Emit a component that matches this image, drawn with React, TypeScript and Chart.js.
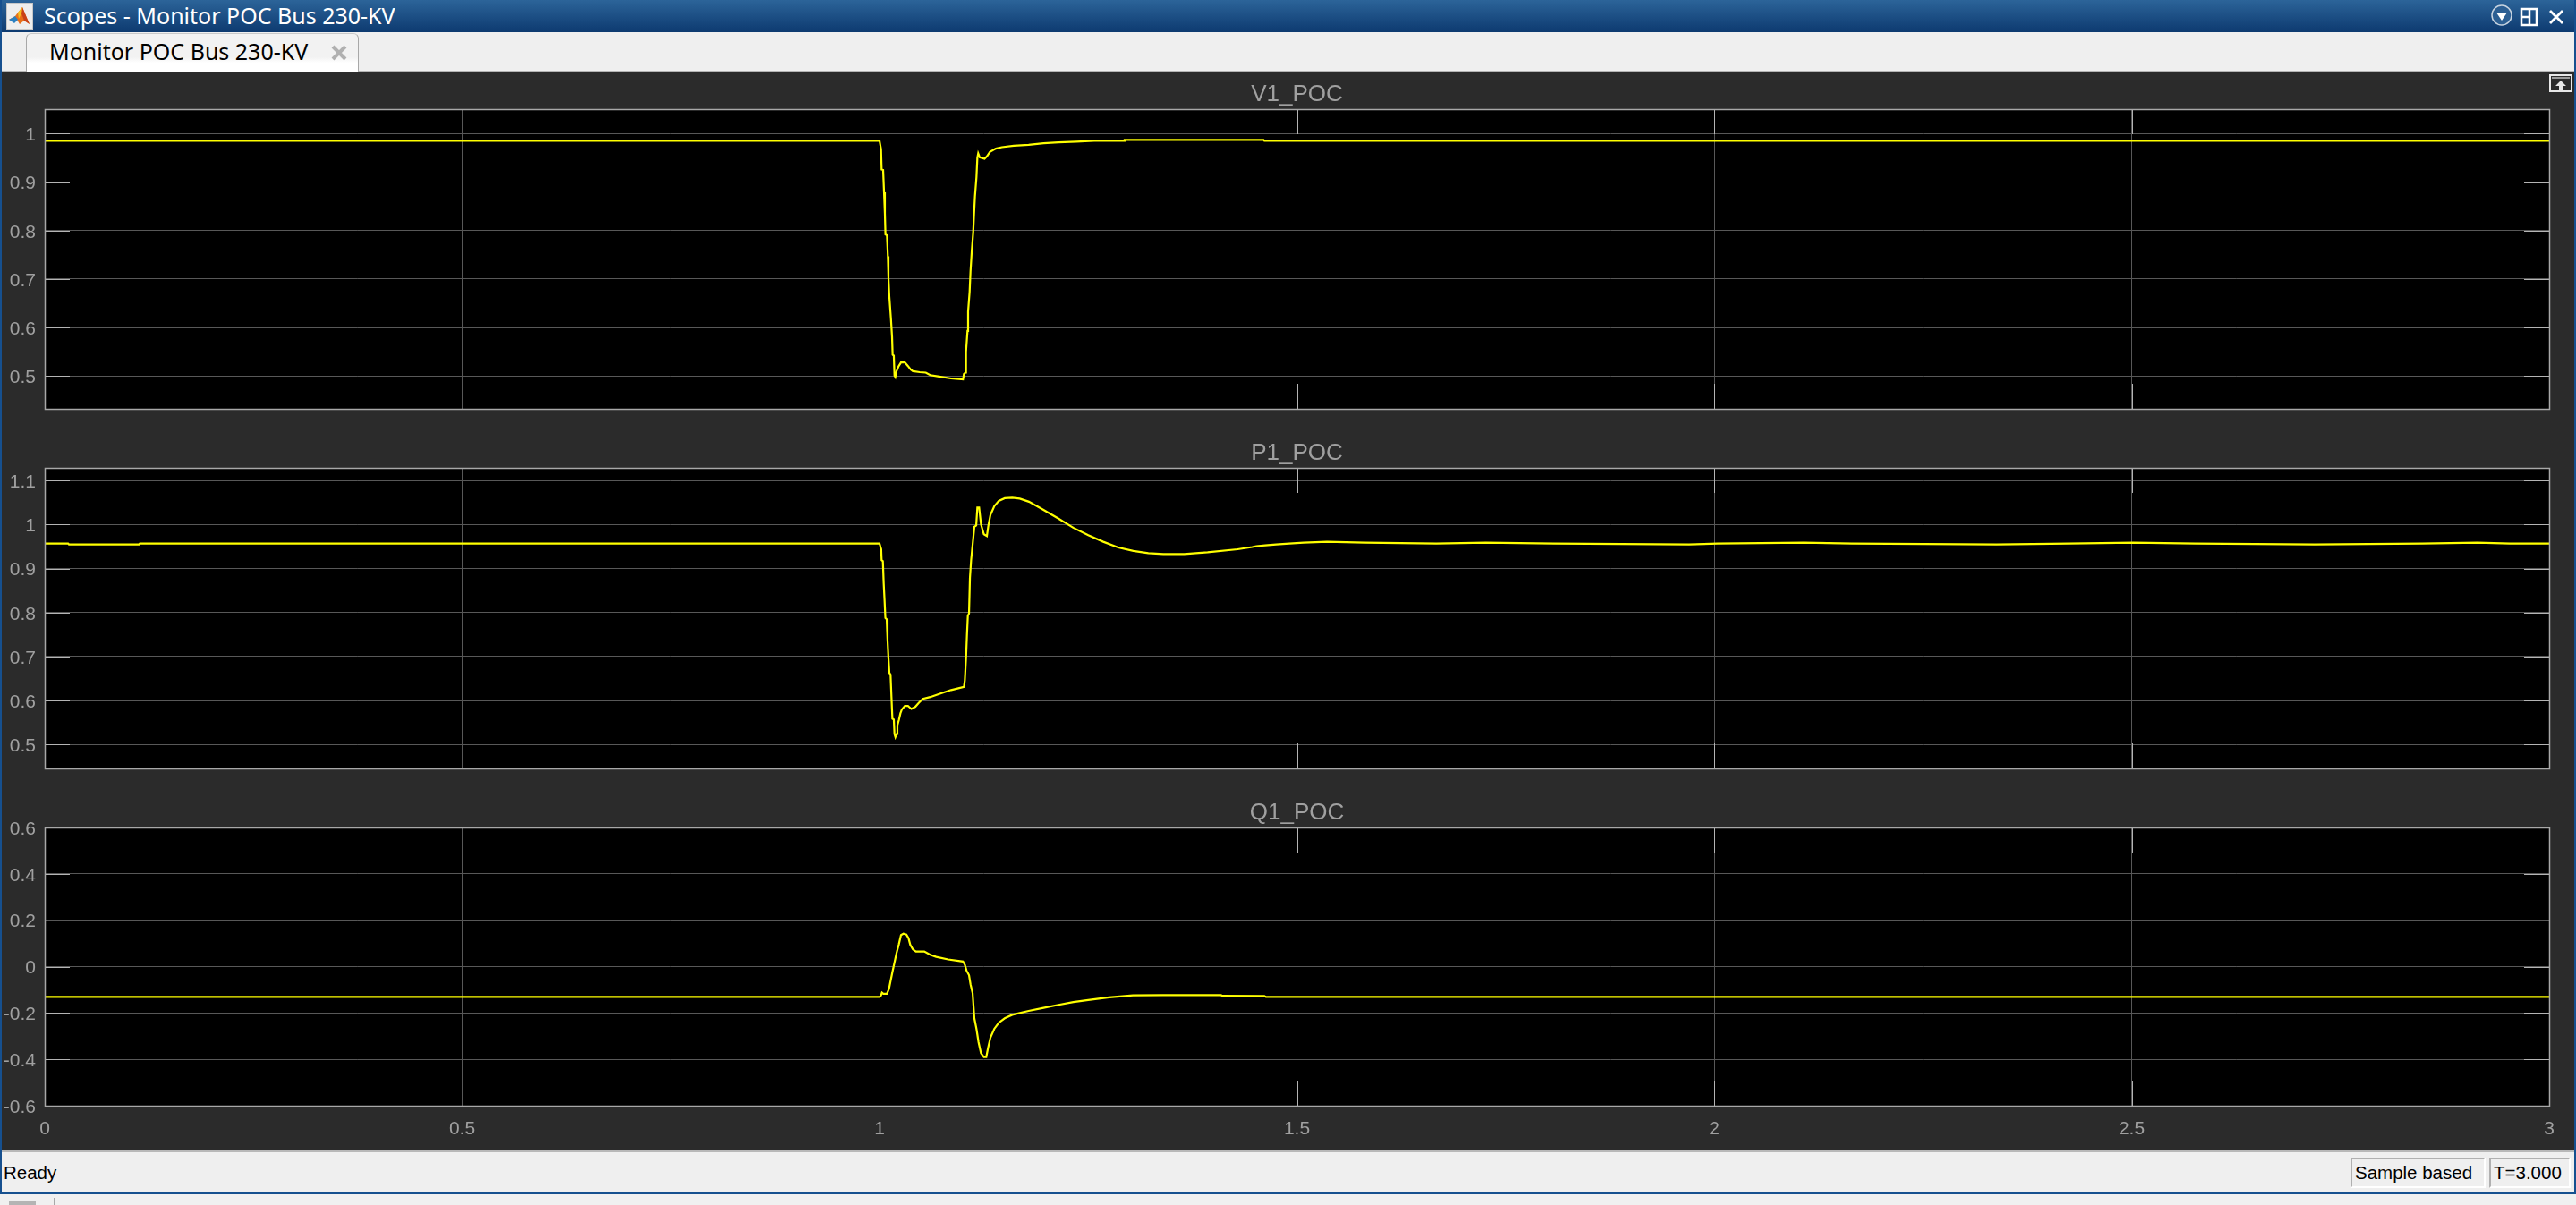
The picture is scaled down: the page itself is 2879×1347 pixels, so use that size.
import React, { useEffect, useRef } from "react";
import { Chart, registerables } from "chart.js";

Chart.register(...registerables);

const WINDOW_TITLE = "Scopes - Monitor POC Bus 230-KV";
const TAB_TITLE = "Monitor POC Bus 230-KV";
const STATUS_TEXT = "Ready";
const SAMPLE_TEXT = "Sample based";
const TIME_TEXT = "T=3.000";

const xTicks = [0, 0.5, 1, 1.5, 2, 2.5, 3];
const v1Ticks = [0.5, 0.6, 0.7, 0.8, 0.9, 1];
const p1Ticks = [0.5, 0.6, 0.7, 0.8, 0.9, 1, 1.1];
const q1Ticks = [-0.6, -0.4, -0.2, 0, 0.2, 0.4, 0.6];

const v1Time = [0, 1, 1.0018, 1.0025, 1.0043, 1.0054, 1.0064, 1.0071, 1.0089, 1.01, 1.0107, 1.0118, 1.0136, 1.015, 1.0157, 1.0171, 1.0179, 1.0189, 1.0204, 1.0225, 1.0257, 1.0304, 1.0339, 1.0375, 1.04, 1.0482, 1.0554, 1.0607, 1.0715, 1.0857, 1.1, 1.1011, 1.1029, 1.1036, 1.1054, 1.1061, 1.1079, 1.109, 1.1104, 1.1122, 1.1132, 1.1143, 1.1161, 1.1172, 1.1182, 1.12, 1.1258, 1.1286, 1.1322, 1.1393, 1.1465, 1.1608, 1.1786, 1.1965, 1.2144, 1.2358, 1.2572, 1.2929, 1.2936, 1.46, 1.461, 3];
const v1Values = [0.9852, 0.9852, 0.968, 0.926, 0.925, 0.879, 0.836, 0.792, 0.79, 0.747, 0.702, 0.663, 0.62, 0.581, 0.544, 0.542, 0.501, 0.498, 0.51, 0.519, 0.528, 0.528, 0.521, 0.513, 0.51, 0.508, 0.507, 0.502, 0.499, 0.495, 0.493, 0.504, 0.507, 0.55, 0.593, 0.633, 0.673, 0.716, 0.755, 0.796, 0.833, 0.87, 0.91, 0.95, 0.959, 0.951, 0.948, 0.953, 0.962, 0.969, 0.972, 0.975, 0.977, 0.98, 0.982, 0.9834, 0.9852, 0.9852, 0.987, 0.987, 0.9852, 0.9852];

const p1Time = [0, 0.028, 0.029, 0.113, 0.114, 1, 1.002, 1.0025, 1.004, 1.005, 1.006, 1.007, 1.0086, 1.0096, 1.0107, 1.0118, 1.0132, 1.0143, 1.0154, 1.0171, 1.0179, 1.019, 1.0204, 1.0214, 1.0232, 1.025, 1.0268, 1.0304, 1.034, 1.0382, 1.0429, 1.0472, 1.0518, 1.0607, 1.0715, 1.0857, 1.1011, 1.1022, 1.1036, 1.1047, 1.1058, 1.1072, 1.1083, 1.1097, 1.1115, 1.1136, 1.1158, 1.1172, 1.1193, 1.1215, 1.125, 1.1286, 1.1304, 1.1329, 1.1375, 1.1429, 1.15, 1.159, 1.168, 1.179, 1.196, 1.214, 1.232, 1.25, 1.268, 1.286, 1.304, 1.322, 1.34, 1.365, 1.393, 1.429, 1.4464, 1.4515, 1.462, 1.475, 1.491, 1.508, 1.536, 1.581, 1.667, 1.726, 1.807, 1.97, 2.004, 2.107, 2.165, 2.338, 2.425, 2.502, 2.576, 2.719, 2.848, 2.914, 2.953, 3];
const p1Values = [0.957, 0.957, 0.955, 0.955, 0.957, 0.957, 0.944, 0.919, 0.917, 0.866, 0.829, 0.788, 0.785, 0.737, 0.696, 0.663, 0.659, 0.608, 0.559, 0.557, 0.524, 0.517, 0.524, 0.544, 0.556, 0.571, 0.58, 0.588, 0.588, 0.581, 0.586, 0.595, 0.604, 0.608, 0.615, 0.624, 0.631, 0.646, 0.696, 0.747, 0.793, 0.798, 0.879, 0.919, 0.954, 0.995, 0.998, 1.039, 1.039, 1.001, 0.978, 0.974, 0.998, 1.022, 1.042, 1.054, 1.06, 1.061, 1.059, 1.052, 1.034, 1.014, 0.993, 0.976, 0.961, 0.948, 0.94, 0.935, 0.933, 0.933, 0.937, 0.944, 0.949, 0.951, 0.953, 0.955, 0.957, 0.959, 0.961, 0.959, 0.957, 0.959, 0.957, 0.955, 0.957, 0.959, 0.957, 0.955, 0.957, 0.959, 0.957, 0.955, 0.957, 0.959, 0.957, 0.957];

const q1Time = [0, 1, 1.0018, 1.0029, 1.0046, 1.0089, 1.0114, 1.0132, 1.0154, 1.0179, 1.0204, 1.0232, 1.0257, 1.0286, 1.0322, 1.0347, 1.0368, 1.04, 1.0436, 1.0536, 1.0607, 1.0679, 1.0822, 1.1, 1.1022, 1.1043, 1.1072, 1.109, 1.1115, 1.1136, 1.1161, 1.1186, 1.1215, 1.125, 1.1279, 1.13, 1.1329, 1.1375, 1.1429, 1.15, 1.159, 1.1786, 1.1965, 1.2144, 1.2322, 1.25, 1.275, 1.3036, 1.3393, 1.409, 1.411, 1.461, 1.463, 3];
const q1Values = [-0.131, -0.131, -0.124, -0.112, -0.117, -0.117, -0.095, -0.063, -0.024, 0.017, 0.059, 0.097, 0.136, 0.142, 0.138, 0.123, 0.094, 0.074, 0.065, 0.065, 0.051, 0.042, 0.031, 0.022, 0.008, -0.018, -0.037, -0.076, -0.114, -0.223, -0.268, -0.326, -0.373, -0.39, -0.39, -0.351, -0.306, -0.268, -0.242, -0.223, -0.208, -0.191, -0.178, -0.165, -0.153, -0.144, -0.133, -0.124, -0.123, -0.123, -0.126, -0.127, -0.131, -0.131];

const TICK_FONT = "'Liberation Sans', Arial, sans-serif";
const UI_FONT = "'Noto Sans', sans-serif";

const panelPlugin = {
  id: "scopePanel",
  beforeDraw(chart: any) {
    const { ctx, chartArea: a } = chart;
    ctx.save();
    ctx.fillStyle = "#000000";
    ctx.fillRect(a.left, a.top, a.right - a.left, a.bottom - a.top);
    ctx.restore();
  },
  beforeDatasetsDraw(chart: any) {
    const { ctx, chartArea: a, scales } = chart;
    const len = 28;
    ctx.save();
    ctx.strokeStyle = "#b4b4b4";
    ctx.lineWidth = 1;
    ctx.beginPath();
    scales.x.ticks.forEach((_: any, i: number) => {
      const p = Math.round(scales.x.getPixelForTick(i)) + 0.5;
      ctx.moveTo(p, a.top);
      ctx.lineTo(p, a.top + len);
      ctx.moveTo(p, a.bottom);
      ctx.lineTo(p, a.bottom - len);
    });
    scales.y.ticks.forEach((_: any, i: number) => {
      const p = Math.round(scales.y.getPixelForTick(i)) + 0.5;
      ctx.moveTo(a.left, p);
      ctx.lineTo(a.left + len, p);
      ctx.moveTo(a.right, p);
      ctx.lineTo(a.right - len, p);
    });
    ctx.stroke();
    ctx.restore();
  },
  afterDraw(chart: any) {
    const { ctx, chartArea: a } = chart;
    ctx.save();
    ctx.strokeStyle = "#a8a8a8";
    ctx.lineWidth = 1.5;
    ctx.strokeRect(a.left + 0.5, a.top + 0.5, a.right - a.left, a.bottom - a.top);
    ctx.restore();
  },
};

type ScopeProps = {
  title: string;
  time: number[];
  values: number[];
  yTicks: number[];
  yMin: number;
  yMax: number;
  top: number;
  height: number;
  xAxisHeight: number;
  showX: boolean;
};

function Scope({ title, time, values, yTicks, yMin, yMax, top, height, xAxisHeight, showX }: ScopeProps) {
  const ref = useRef<HTMLCanvasElement>(null);
  useEffect(() => {
    const chart = new Chart(ref.current as HTMLCanvasElement, {
      type: "line",
      plugins: [panelPlugin],
      data: {
        datasets: [
          {
            label: title,
            data: time.map((t, i) => ({ x: t, y: values[i] })),
            borderColor: "#ffff00",
            borderWidth: 2.2,
            pointRadius: 0,
            tension: 0,
            fill: false,
          },
        ],
      },
      options: {
        animation: false,
        responsive: false,
        devicePixelRatio: 1,
        parsing: false,
        layout: { padding: { left: 0, right: 30, top: 0, bottom: 0 } },
        plugins: {
          legend: { display: false },
          tooltip: { enabled: false },
          title: {
            display: true,
            text: title,
            color: "#a0a0a0",
            fullSize: false,
            font: { family: TICK_FONT, size: 26, weight: "normal", lineHeight: 1.2 },
            padding: { top: 2, bottom: 0.8 },
          },
        },
        scales: {
          x: {
            type: "linear",
            min: 0,
            max: 3,
            afterBuildTicks: (s: any) => {
              s.ticks = xTicks.map((value) => ({ value }));
            },
            afterFit: (s: any) => {
              s.height = xAxisHeight;
            },
            border: { display: false },
            grid: { color: "#585858", lineWidth: 1, drawTicks: false },
            ticks: {
              display: showX,
              color: "#a0a0a0",
              font: { family: TICK_FONT, size: 21 },
              padding: 14,
              maxRotation: 0,
              autoSkip: false,
              callback: (v: any) => String(v),
            },
          },
          y: {
            type: "linear",
            min: yMin,
            max: yMax,
            afterBuildTicks: (s: any) => {
              s.ticks = yTicks.map((value) => ({ value }));
            },
            afterFit: (s: any) => {
              s.width = 50;
            },
            border: { display: false },
            grid: { color: "#585858", lineWidth: 1, drawTicks: false },
            ticks: {
              color: "#a0a0a0",
              font: { family: TICK_FONT, size: 21 },
              padding: 10,
              labelOffset: 2,
              autoSkip: false,
              callback: (v: any) => String(v),
            },
          },
        },
      },
    } as any);
    return () => chart.destroy();
  }, []);
  return (
    <canvas
      ref={ref}
      width={2879}
      height={height}
      style={{ position: "absolute", left: 0, top, width: 2879, height, display: "block" }}
    />
  );
}

const box = (left: number, top: number, width: number, height: number, background: string, extra: any = {}) => ({
  position: "absolute" as const,
  left,
  top,
  width,
  height,
  background,
  ...extra,
});

const statusText = {
  fontFamily: TICK_FONT,
  fontSize: 20.5,
  color: "#000",
  lineHeight: "30px",
  whiteSpace: "nowrap" as const,
};

export default function App() {
  return (
    <div style={box(0, 0, 2879, 1347, "#f0f0f0", { position: "fixed", overflow: "hidden" })}>
      {/* Title bar */}
      <div style={box(0, 0, 2879, 36, "linear-gradient(#2c6499, #0d3a70)")} />
      <svg style={{ position: "absolute", left: 7, top: 3 }} width="30" height="30" viewBox="0 0 30 30">
        <rect x="0.5" y="0.5" width="29" height="29" fill="#eeeeee" stroke="#c8c8c8" />
        <path d="M3 19 L10 15 L13 11 L18 5 L23 17 L26 24 L20 20 L15 24 L12 19 Z" fill="#e8701a" />
        <path d="M3 19 L10 15 L13 19 L9 23 Z" fill="#2a7fc0" />
        <path d="M18 5 L23 17 L26 24 L20 20 L17 12 Z" fill="#c8421a" />
        <path d="M13 11 L18 5 L17 12 L14 18 Z" fill="#f4c020" />
      </svg>
      <div style={{ position: "absolute", left: 49, top: 0, fontFamily: UI_FONT, fontSize: 25, lineHeight: "35px", color: "#fff", whiteSpace: "nowrap" }}>
        {WINDOW_TITLE}
      </div>
      <svg style={{ position: "absolute", left: 2782, top: 3 }} width="90" height="30" viewBox="0 0 90 30">
        <circle cx="14" cy="14" r="11" fill="#2c5f93" stroke="#c8d4e0" strokeWidth="1.5" />
        <path d="M8 11 L20 11 L14 20 Z" fill="#ffffff" />
        <path d="M36 7 H53 V25 H36 Z M45 7 V25 M36 16 H45" fill="none" stroke="#ffffff" strokeWidth="2.5" />
        <path d="M68 9 L82 23 M82 9 L68 23" stroke="#ffffff" strokeWidth="2.8" />
      </svg>

      {/* Tab strip */}
      <div style={box(2, 36, 2875, 44, "#efefef")} />
      <div style={box(2, 79, 2875, 2, "#b4b4b4")} />
      <div
        style={box(29, 37, 372, 44, "linear-gradient(#f2f2f2 60%, #ffffff 75%)", {
          borderLeft: "1px solid #a8a8a8",
          borderRight: "1px solid #a8a8a8",
          borderTop: "1px solid #c8c8c8",
          borderRadius: "6px 6px 0 0",
          boxSizing: "border-box",
        })}
      />
      <div style={{ position: "absolute", left: 55, top: 37, fontFamily: UI_FONT, fontSize: 25, lineHeight: "40px", color: "#000", whiteSpace: "nowrap" }}>
        {TAB_TITLE}
      </div>
      <svg style={{ position: "absolute", left: 368, top: 48 }} width="22" height="22" viewBox="0 0 22 22">
        <path d="M4 4 L18 18 M18 4 L4 18" stroke="#b0b0b0" strokeWidth="4" />
      </svg>

      {/* Scope area */}
      <div style={box(2, 81, 2875, 1204, "#2b2b2b")} />
      <Scope title="V1_POC" time={v1Time} values={v1Values} yTicks={v1Ticks} yMin={0.4323} yMax={1.0504} top={88} height={399} xAxisHeight={30} showX={false} />
      <Scope title="P1_POC" time={p1Time} values={p1Values} yTicks={p1Ticks} yMin={0.4457} yMax={1.129} top={489} height={400} xAxisHeight={30} showX={false} />
      <Scope title="Q1_POC" time={q1Time} values={q1Values} yTicks={q1Ticks} yMin={-0.6} yMax={0.6} top={891} height={385} xAxisHeight={40} showX={true} />

      <svg style={{ position: "absolute", left: 2849, top: 83 }} width="26" height="20" viewBox="0 0 26 20">
        <rect x="1" y="1" width="24" height="18" fill="#2b2b2b" stroke="#e8e8e8" strokeWidth="2" />
        <path d="M3 4 H23" stroke="#9a9a9a" strokeWidth="2" />
        <path d="M13 7 L19 13 H15 V18 H11 V13 H7 Z" fill="#e8e8e8" />
      </svg>

      {/* Status bar */}
      <div style={box(2, 1285, 2875, 3, "#b8b8b8")} />
      <div style={box(2, 1288, 2875, 45, "#efefef")} />
      <div style={{ ...statusText, position: "absolute", left: 4, top: 1296 }}>{STATUS_TEXT}</div>
      <div style={box(2627, 1294, 151, 34, "#efefef", { borderLeft: "2px solid #b0b0b0", borderTop: "2px solid #b0b0b0", borderRight: "2px solid #fff", borderBottom: "2px solid #fff", boxSizing: "border-box" })} />
      <div style={{ ...statusText, position: "absolute", left: 2632, top: 1296 }}>{SAMPLE_TEXT}</div>
      <div style={box(2782, 1294, 91, 34, "#efefef", { borderLeft: "2px solid #b0b0b0", borderTop: "2px solid #b0b0b0", borderRight: "2px solid #fff", borderBottom: "2px solid #fff", boxSizing: "border-box" })} />
      <div style={{ ...statusText, position: "absolute", left: 2787, top: 1296 }}>{TIME_TEXT}</div>

      {/* Window borders */}
      <div style={box(0, 0, 2, 1335, "#16508f")} />
      <div style={box(2877, 0, 2, 1335, "#16508f")} />
      <div style={box(0, 1333, 2879, 2, "#16508f")} />
      <div style={box(10, 1342, 30, 5, "#b4b4b4")} />
      <div style={box(60, 1339, 1, 8, "#a8a8a8")} />
    </div>
  );
}
